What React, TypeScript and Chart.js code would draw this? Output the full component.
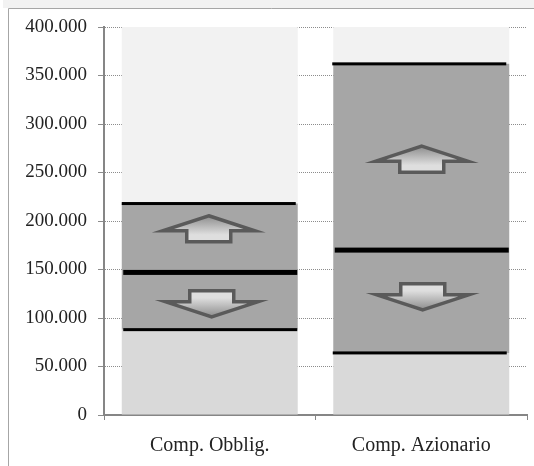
import React, { useEffect, useRef } from "react";
import { Chart, registerables } from "chart.js";

Chart.register(...registerables);

const categories = ["Comp. Obblig.", "Comp. Azionario"];
const baseValues = [88000, 64000];
const bandValues = [130000, 298000];
const restValues = [182000, 38000];
const lineTop = [218000, 362000];
const lineMid = [147000, 170000];
const lineBottom = [88000, 64000];
const arrowUpAt = [192000, 263700];
const arrowDownAt = [114600, 121800];
const yTicks = [0, 50000, 100000, 150000, 200000, 250000, 300000, 350000, 400000];

const W = 534;
const H = 466;
const fmt = (v: number) => (v === 0 ? "0" : `${v / 1000}.000`);

function arrow(ctx: CanvasRenderingContext2D, cx: number, cy: number, dir: 1 | -1) {
  const hw = 46, sw = 22, total = 26, head = 15;
  const tip = cy - dir * (total / 2);
  const neck = tip + dir * head;
  const tail = cy + dir * (total / 2);
  ctx.beginPath();
  ctx.moveTo(cx, tip);
  ctx.lineTo(cx + hw, neck);
  ctx.lineTo(cx + sw, neck);
  ctx.lineTo(cx + sw, tail);
  ctx.lineTo(cx - sw, tail);
  ctx.lineTo(cx - sw, neck);
  ctx.lineTo(cx - hw, neck);
  ctx.closePath();
  const g = ctx.createLinearGradient(0, tip, 0, neck + dir * 4);
  g.addColorStop(0, "#8c8c8c");
  g.addColorStop(1, "#dedede");
  ctx.fillStyle = g;
  ctx.fill();
  ctx.strokeStyle = "#5a5a5a";
  ctx.lineWidth = 3.5;
  ctx.lineJoin = "miter";
  ctx.stroke();
}

const overlay = {
  id: "overlay",
  afterDatasetsDraw(chart: Chart) {
    const { ctx } = chart;
    const y = chart.scales.y;
    const x = chart.scales.x;
    const half = 87;
    const rows: [number[], number, number[]][] = [
      [lineTop, 3, [-1, -2]],
      [lineMid, 5, [0.5, 0.5]],
      [lineBottom, 3, [0.5, -1.5]],
    ];
    ctx.save();
    ctx.fillStyle = "#000";
    rows.forEach(([vals, t, dx]) => {
      vals.forEach((v, i) => {
        const c = x.getPixelForValue(i) + dx[i];
        const py = y.getPixelForValue(v);
        ctx.fillRect(c - half, py - t / 2, half * 2, t);
      });
    });
    const upDx = [-1, 0.5];
    const downDx = [2, 1.5];
    categories.forEach((_, i) => {
      const c = x.getPixelForValue(i);
      arrow(ctx, c + upDx[i], y.getPixelForValue(arrowUpAt[i]), 1);
      arrow(ctx, c + downDx[i], y.getPixelForValue(arrowDownAt[i]), -1);
    });
    ctx.restore();
  },
};

const frame = {
  id: "frame",
  beforeDraw(chart: Chart) {
    const { ctx } = chart;
    ctx.save();
    ctx.fillStyle = "#f2f2f2";
    ctx.fillRect(3, 0, W - 3, 8);
    ctx.strokeStyle = "#a6a6a6";
    ctx.lineWidth = 1;
    ctx.beginPath();
    ctx.moveTo(8.5, H);
    ctx.lineTo(8.5, 8.5);
    ctx.lineTo(W, 8.5);
    ctx.stroke();
    ctx.restore();
  },
};

export default function App() {
  const ref = useRef<HTMLCanvasElement>(null);
  useEffect(() => {
    document.body.style.margin = "0";
    const chart = new Chart(ref.current!, {
      type: "bar",
      data: {
        labels: categories,
        datasets: [
          { data: baseValues, backgroundColor: "#d9d9d9" },
          { data: bandValues, backgroundColor: "#a6a6a6" },
          { data: restValues, backgroundColor: "#f2f2f2" },
        ],
      },
      options: {
        responsive: false,
        animation: false,
        layout: { padding: { left: 0, top: 27, right: 7, bottom: 0 } },
        plugins: { legend: { display: false }, tooltip: { enabled: false } },
        datasets: { bar: { categoryPercentage: 0.832, barPercentage: 1 } },
        scales: {
          x: {
            stacked: true,
            afterFit: (s: any) => {
              s.height = 51;
            },
            border: { color: "#868686", width: 2 },
            grid: { display: true, drawOnChartArea: false, offset: true, color: "#868686", tickLength: 5 },
            ticks: { color: "#222", font: { family: "Liberation Serif", size: 20 }, padding: 14, maxRotation: 0 },
          },
          y: {
            stacked: true,
            min: 0,
            max: 400000,
            afterFit: (s: any) => {
              s.width = 104;
            },
            afterBuildTicks: (s: any) => {
              s.ticks = yTicks.map((value) => ({ value }));
            },
            border: { color: "#868686", width: 2, dash: [1, 1] },
            grid: { color: "#8c8c8c", tickColor: "#8c8c8c", lineWidth: 1, tickLength: 6, tickBorderDash: [] },
            ticks: { color: "#222", font: { family: "Liberation Serif", size: 19 }, padding: 11, callback: (v: any) => fmt(Number(v)) },
          },
        },
      } as any,
      plugins: [frame, overlay],
    });
    return () => chart.destroy();
  }, []);
  return <canvas ref={ref} width={W} height={H} style={{ display: "block", width: W, height: H }} />;
}
